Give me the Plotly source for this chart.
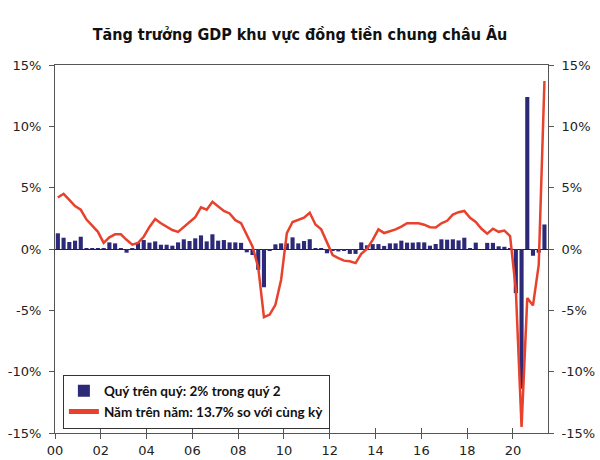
import plotly.graph_objects as go

# Quarterly data 2000Q1 - 2021Q2
qoq = [1.28, 0.92, 0.57, 0.68,
       1.0, 0.05, 0.05, 0.05,
       0.05, 0.54, 0.46, 0.02,
       -0.3, 0.05, 0.5, 0.73,
       0.52, 0.62, 0.35, 0.35,
       0.27, 0.54, 0.79, 0.65,
       0.87, 1.11, 0.62, 1.2,
       0.68, 0.73, 0.54, 0.54,
       0.5, -0.27, -0.49, -1.7,
       -3.12, -0.1, 0.38, 0.46,
       0.46, 0.95, 0.46, 0.65,
       0.8, 0.05, 0.02, -0.35,
       -0.15, -0.2, -0.15, -0.4,
       -0.4, 0.54, 0.3, 0.4,
       0.4, 0.25, 0.46, 0.46,
       0.68, 0.52, 0.52, 0.55,
       0.54, 0.27, 0.41, 0.79,
       0.76, 0.79, 0.7, 0.92,
       0.05, 0.52, 0.0, 0.5,
       0.5, 0.22, 0.18, 0.03,
       -3.6, -11.4, 12.4, -0.55,
       -0.3, 2.0]

yoy = [4.2, 4.5, 4.0, 3.5,
       3.2, 2.4, 1.9, 1.4,
       0.5, 0.95, 1.2, 1.2,
       0.75, 0.35, 0.5, 1.0,
       1.8, 2.45, 2.1, 1.8,
       1.55, 1.4, 1.8, 2.15,
       2.6, 3.4, 3.2, 3.85,
       3.5, 3.1, 2.9, 2.35,
       2.1, 1.15, 0.2, -1.5,
       -5.55, -5.35, -4.55, -2.5,
       1.3, 2.2, 2.35, 2.55,
       2.95, 2.0, 1.6, 0.6,
       -0.5, -0.75, -0.95, -1.0,
       -1.15, -0.4, 0.0, 0.75,
       1.6, 1.3, 1.45, 1.6,
       1.82, 2.1, 2.1, 2.1,
       1.98, 1.78, 1.75, 2.1,
       2.3, 2.8, 3.0, 3.1,
       2.55, 2.2, 1.65, 1.25,
       1.65, 1.4, 1.5, 1.05,
       -3.3, -14.5, -4.0, -4.6,
       -1.3, 13.7]

start_year = 2000
quarters = [start_year + 0.125 + 0.25 * i for i in range(len(qoq))]

x_tickvals = list(range(2000, 2022, 2))
x_ticktext = ["00", "02", "04", "06", "08", "10", "12", "14", "16", "18", "20"]
y_tickvals = [-15, -10, -5, 0, 5, 10, 15]
y_ticktext = ["-15%", "-10%", "-5%", "0%", "5%", "10%", "15%"]

title_text = "Tăng trưởng GDP khu vực đồng tiền chung châu Âu"
name_qoq = "Quý trên quý: 2% trong quý 2"
name_yoy = "Năm trên năm: 13.7% so với cùng kỳ"

BAR_COLOR = "#2c2a78"
LINE_COLOR = "#e8412c"
AXIS_COLOR = "#555555"
TXT = "#222222"
XR = [2000, 2021.53]
YR = [-15, 15]

fig = go.Figure()
fig.add_trace(go.Bar(x=quarters, y=qoq, name=name_qoq, marker_color=BAR_COLOR,
                     marker_line_width=0, width=0.18, xaxis="x", yaxis="y"))
fig.add_trace(go.Scatter(x=quarters, y=yoy, name=name_yoy, mode="lines",
                         line=dict(color=LINE_COLOR, width=2.5),
                         xaxis="x2", yaxis="y2"))

tickfont = dict(family="DejaVu Sans, Verdana, sans-serif", size=13, color=TXT)

fig.update_layout(
    width=600, height=460,
    margin=dict(l=55, r=52, t=65, b=27),
    paper_bgcolor="white", plot_bgcolor="white",
    title=dict(text="<b>" + title_text + "</b>", x=0.5, xanchor="center",
               y=0.925, yanchor="middle",
               font=dict(family="Noto Sans ExtraCondensed, Noto Sans Condensed, DejaVu Sans Condensed, Liberation Sans Narrow, sans-serif",
                         size=16, color="#111111")),
    showlegend=True,
    legend=dict(x=0.016, y=0.012, xanchor="left", yanchor="bottom",
                bgcolor="white", bordercolor="#333333", borderwidth=1,
                font=dict(family="Lato, sans-serif", size=13.5, color="#111111", weight="bold"),
                itemsizing="constant", tracegroupgap=0),
    bargap=0.3,
    xaxis=dict(range=XR, tickvals=x_tickvals, ticktext=x_ticktext,
               showgrid=False, zeroline=False, showline=True, linecolor=AXIS_COLOR,
               linewidth=1, mirror=True, ticks="outside", ticklen=5, tickcolor=AXIS_COLOR,
               tickfont=tickfont, ticklabelstandoff=0, automargin=False),
    xaxis2=dict(range=XR, overlaying="x", anchor="y2", side="bottom",
                tickvals=x_tickvals, showticklabels=False, showgrid=False,
                zeroline=False, showline=False, ticks="inside", ticklen=5,
                tickcolor=AXIS_COLOR, automargin=False),
    yaxis=dict(range=YR, tickvals=y_tickvals, ticktext=y_ticktext,
               showgrid=False, zeroline=True, zerolinecolor="#222222", zerolinewidth=1,
               showline=True, linecolor=AXIS_COLOR, linewidth=1,
               ticks="outside", ticklen=5, tickcolor=AXIS_COLOR, tickfont=tickfont,
               ticklabelstandoff=5, automargin=False),
    yaxis2=dict(range=YR, overlaying="y", side="right", anchor="x2",
                tickvals=y_tickvals, ticktext=y_ticktext,
                showgrid=False, zeroline=False, showline=True, linecolor=AXIS_COLOR,
                linewidth=1, ticks="outside", ticklen=5, tickcolor=AXIS_COLOR,
                tickfont=tickfont, ticklabelstandoff=5, automargin=False),
)

fig.write_html("out.html")
